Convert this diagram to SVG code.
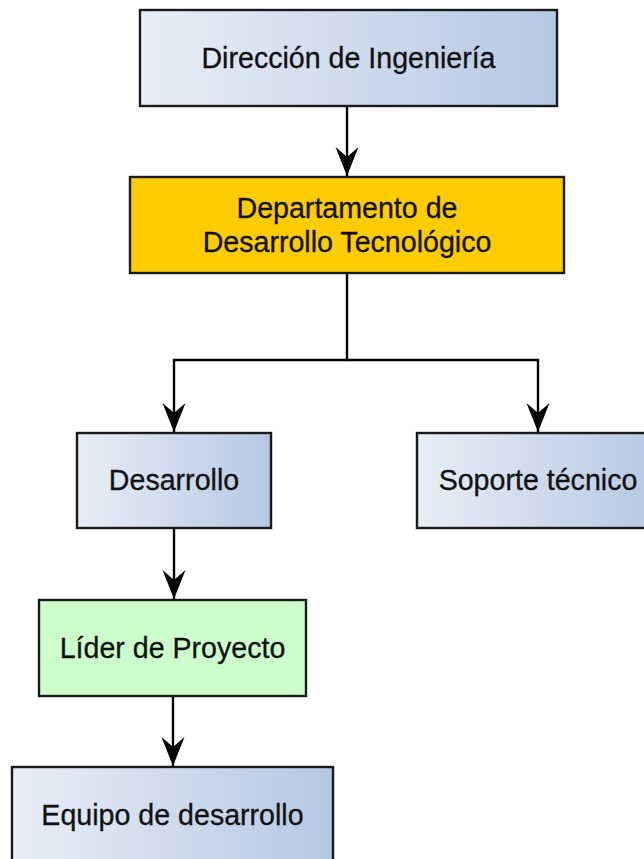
<svg xmlns="http://www.w3.org/2000/svg" width="644" height="859" viewBox="0 0 644 859">
<defs>
<linearGradient id="blueGrad" x1="0" y1="0" x2="1" y2="0">
<stop offset="0" stop-color="#e8eef7"/>
<stop offset="1" stop-color="#b5c8e3"/>
</linearGradient>
<marker id="arrow" markerUnits="userSpaceOnUse" markerWidth="30" markerHeight="30" viewBox="-29 -12 30 24" refX="0" refY="0" orient="auto">
<path d="M0,0 L-29,-11.5 L-19,0 L-29,11.5 Z" fill="#000"/>
</marker>
</defs>
<style>
.box{stroke:#1a1a1a;stroke-width:2.4}
.blue{fill:url(#blueGrad)}
.lbl{font-family:"Liberation Sans",Arial,sans-serif;font-size:28.6px;fill:#111;stroke:#111;stroke-width:0.3;text-anchor:middle}
.conn{fill:none;stroke:#000;stroke-width:2.4;marker-end:url(#arrow)}
</style>
<g id="connectors">
<path class="conn" d="M347,106 V176"/>
<path class="conn" d="M347,273 V360 H174 V432"/>
<path class="conn" d="M347,360 H538 V432"/>
<path class="conn" d="M174,528 V599"/>
<path class="conn" d="M173,696 V766"/>
</g>
<g id="direccion">
<rect class="box blue" x="140" y="10" width="417" height="96"/>
<text class="lbl" x="348.5" y="68">Dirección de Ingeniería</text>
</g>
<g id="departamento">
<rect class="box" x="130" y="177" width="434" height="96" fill="#ffcc00"/>
<text class="lbl" x="347" y="218">Departamento de</text>
<text class="lbl" x="347" y="252">Desarrollo Tecnológico</text>
</g>
<g id="desarrollo">
<rect class="box blue" x="77" y="433" width="194" height="95"/>
<text class="lbl" x="174" y="490">Desarrollo</text>
</g>
<g id="soporte">
<rect class="box blue" x="417" y="433" width="242" height="95"/>
<text class="lbl" x="538" y="490">Soporte técnico</text>
</g>
<g id="lider">
<rect class="box" x="39" y="600" width="267" height="96" fill="#ccffcc"/>
<text class="lbl" x="172.5" y="658">Líder de Proyecto</text>
</g>
<g id="equipo">
<rect class="box blue" x="12" y="767" width="321" height="96"/>
<text class="lbl" x="172.5" y="825">Equipo de desarrollo</text>
</g>
</svg>
